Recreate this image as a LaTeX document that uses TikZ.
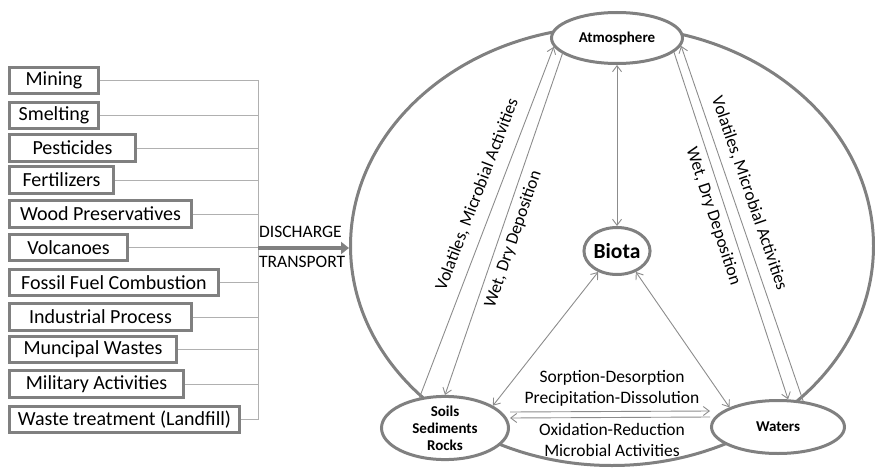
\documentclass[tikz,border=0pt]{standalone}
\usepackage{fontspec}
\setmainfont{Carlito}
\usetikzlibrary{shapes.geometric,arrows.meta}

\definecolor{boxgray}{HTML}{808080}
\definecolor{linkgray}{HTML}{B0B0B0}
\definecolor{flowgray}{HTML}{8C8C8C}

\begin{document}
\begin{tikzpicture}[x=1pt, y=-1pt,
    srcbox/.style={draw=boxgray, line width=2.6pt, anchor=west, minimum height=26.5,
        inner sep=0, font=\fontsize{20}{22}\selectfont},
    feed/.style={linkgray, line width=1pt},
    push/.style={boxgray, line width=3.5pt, -{Triangle[length=8pt,width=12pt]}},
    pool/.style={draw=boxgray, line width=3pt, fill=white, ellipse, inner sep=0,
        align=center, font=\bfseries\fontsize{15}{17}\selectfont},
    flow/.style={flowgray, line width=0.9pt},
    tip/.style={>={Straight Barb[length=6pt,width=9pt]}},
    lbl/.style={font=\fontsize{17.5}{21}\selectfont, text=black, inner sep=1pt},
    along/.style={lbl, sloped, inner sep=6pt}
]
    \useasboundingbox (0,0) rectangle (875,468);

    % sources
    \foreach \name/\y/\w/\txt in {mining/80.5/92/Mining, smelting/115.5/92/Smelting,
        pesticides/148/129/Pesticides, fertilizers/180/107/Fertilizers,
        wood/214/185/Wood Preservatives, volcanoes/247.5/121/Volcanoes,
        fossil/282.5/212/Fossil Fuel Combustion, industrial/317/185/Industrial Process,
        municipal/349.5/170/Muncipal Wastes, military/384/177/Military Activities,
        landfill/419.5/233/Waste treatment (Landfill)}
        \node[srcbox, minimum width=\w-2.6] (\name) at (8,\y) {\txt};

    \coordinate (trunk) at (258,248);
    \foreach \name in {mining,smelting,pesticides,fertilizers,wood,volcanoes,
        fossil,industrial,municipal,military,landfill}
        \draw[feed] (\name.east) -| (trunk);

    % environment
    \node[draw=boxgray, line width=3pt, ellipse, inner sep=0,
        minimum width=523, minimum height=439] (ring) at (612,246) {};

    \draw[push] (trunk) -- (trunk -| ring.west);
    \node[lbl, anchor=west] (discharge) at (258,232) {DISCHARGE};
    \node[lbl, anchor=west] (transport) at (258,262) {TRANSPORT};

    \node[pool, minimum width=131, minimum height=51] (atm) at (617,38) {Atmosphere};
    \node[pool, minimum width=63, minimum height=47,
        font=\bfseries\fontsize{21.5}{24}\selectfont] (biota) at (617,251) {Biota};
    \node[pool, minimum width=127, minimum height=55] (soils) at (445,428) {Soils\\Sediments\\Rocks};
    \node[pool, minimum width=133, minimum height=53] (waters) at (778,427) {Waters};

    % exchanges
    \draw[flow, tip, <->] (atm.270) -- (biota.90);
    \draw[flow, tip, <->] (biota.228) -- (soils.25);
    \draw[flow, tip, <->] (biota.312) -- (waters.158);

    \draw[flow, tip, ->] (soils.130) -- node[along, above, pos=0.56, inner sep=11pt] (volleft) {Volatiles, Microbial Activities} (atm.188);
    \draw[flow, tip, ->] (atm.196) -- node[along, below, pos=0.53] (wetleft) {Wet, Dry Deposition} (soils.90);
    \draw[flow, tip, ->] (atm.346) -- node[along, below, pos=0.46] (wetright) {Wet, Dry Deposition} (waters.70);
    \draw[flow, tip, ->] (waters.46) -- node[along, above, pos=0.57, inner sep=9pt] (volright) {Volatiles, Microbial Activities} (atm.353);

    \draw[flow, tip, ->] ([yshift=16pt]soils.east) -- ([yshift=16pt]waters.west);
    \draw[flow, tip, ->] ([yshift=10pt]waters.west) -- ([yshift=10pt]soils.east);

    \node[lbl, align=center] (sorption) at (612,388) {Sorption-Desorption\\Precipitation-Dissolution};
    \node[lbl, align=center] (redox) at (612,440) {Oxidation-Reduction\\Microbial Activities};
\end{tikzpicture}
\end{document}
